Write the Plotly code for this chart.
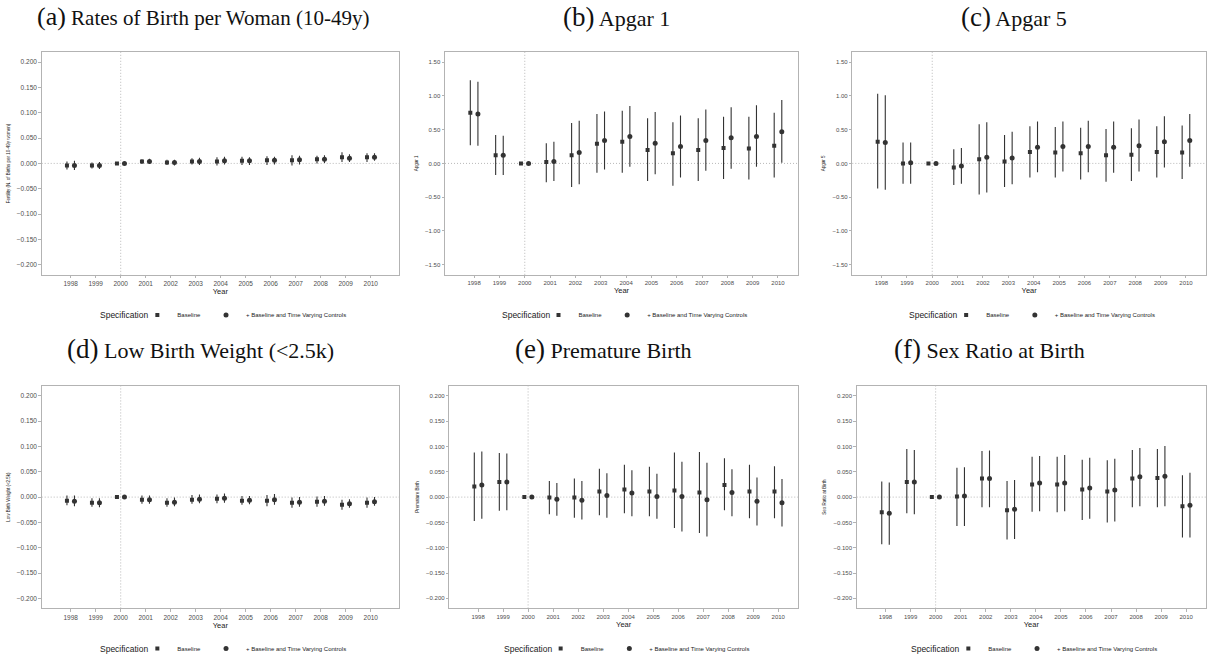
import numpy as np
import plotly.graph_objects as go

years = list(range(1998, 2011))
year_labels = [str(y) for y in years]

# ---- (a) Fertility ----
a_base = [-0.004, -0.004, 0.0, 0.004, 0.002, 0.004, 0.004, 0.005, 0.006, 0.006, 0.008, 0.012, 0.012]
a_base_lo = [-0.012, -0.010, 0.0, -0.001, -0.003, -0.002, -0.004, -0.003, -0.003, -0.004, 0.000, 0.003, 0.003]
a_base_hi = [0.004, 0.002, 0.0, 0.008, 0.007, 0.010, 0.012, 0.013, 0.014, 0.016, 0.015, 0.022, 0.020]
a_ctrl = [-0.004, -0.004, 0.0, 0.004, 0.002, 0.004, 0.005, 0.005, 0.006, 0.007, 0.008, 0.010, 0.012]
a_ctrl_lo = [-0.013, -0.011, 0.0, -0.001, -0.004, -0.003, -0.002, -0.003, -0.002, -0.002, 0.001, 0.003, 0.005]
a_ctrl_hi = [0.005, 0.003, 0.0, 0.009, 0.007, 0.011, 0.013, 0.012, 0.013, 0.015, 0.016, 0.018, 0.020]

# ---- (b) Apgar 1 ----
b_base = [0.75, 0.12, 0.0, 0.02, 0.12, 0.29, 0.32, 0.20, 0.15, 0.20, 0.23, 0.22, 0.26]
b_base_lo = [0.27, -0.17, 0.0, -0.28, -0.35, -0.14, -0.14, -0.26, -0.33, -0.26, -0.23, -0.24, -0.21]
b_base_hi = [1.23, 0.42, 0.0, 0.30, 0.60, 0.73, 0.78, 0.67, 0.61, 0.67, 0.69, 0.69, 0.75]
b_ctrl = [0.73, 0.12, 0.0, 0.03, 0.16, 0.34, 0.40, 0.30, 0.25, 0.34, 0.38, 0.40, 0.47]
b_ctrl_lo = [0.26, -0.17, 0.0, -0.26, -0.31, -0.09, -0.05, -0.16, -0.21, -0.11, -0.08, -0.05, 0.01]
b_ctrl_hi = [1.21, 0.41, 0.0, 0.32, 0.63, 0.77, 0.85, 0.76, 0.71, 0.80, 0.83, 0.86, 0.94]

# ---- (c) Apgar 5 ----
c_base = [0.32, 0.00, 0.0, -0.06, 0.06, 0.03, 0.17, 0.16, 0.15, 0.12, 0.13, 0.17, 0.16]
c_base_lo = [-0.37, -0.30, 0.0, -0.32, -0.46, -0.35, -0.21, -0.21, -0.24, -0.27, -0.26, -0.21, -0.23]
c_base_hi = [1.03, 0.31, 0.0, 0.21, 0.58, 0.42, 0.55, 0.54, 0.53, 0.51, 0.52, 0.55, 0.56]
c_ctrl = [0.31, 0.01, 0.0, -0.04, 0.09, 0.08, 0.24, 0.25, 0.25, 0.24, 0.26, 0.32, 0.34]
c_ctrl_lo = [-0.39, -0.30, 0.0, -0.30, -0.43, -0.31, -0.13, -0.12, -0.13, -0.14, -0.12, -0.06, -0.05]
c_ctrl_hi = [1.01, 0.31, 0.0, 0.23, 0.61, 0.47, 0.62, 0.62, 0.63, 0.62, 0.65, 0.70, 0.73]

# ---- (d) Low birth weight ----
d_base = [-0.007, -0.011, 0.0, -0.005, -0.011, -0.005, -0.003, -0.007, -0.007, -0.011, -0.009, -0.015, -0.011]
d_base_lo = [-0.016, -0.019, 0.0, -0.013, -0.019, -0.013, -0.012, -0.015, -0.018, -0.021, -0.019, -0.025, -0.021]
d_base_hi = [0.003, -0.002, 0.0, 0.003, -0.002, 0.004, 0.005, 0.002, 0.004, -0.001, 0.001, -0.005, -0.001]
d_ctrl = [-0.008, -0.011, 0.0, -0.005, -0.010, -0.004, -0.002, -0.006, -0.005, -0.010, -0.008, -0.013, -0.009]
d_ctrl_lo = [-0.018, -0.020, 0.0, -0.013, -0.018, -0.012, -0.011, -0.014, -0.015, -0.019, -0.017, -0.021, -0.017]
d_ctrl_hi = [0.003, -0.002, 0.0, 0.003, -0.001, 0.005, 0.007, 0.002, 0.006, 0.000, 0.002, -0.004, 0.000]

# ---- (e) Premature birth ----
e_base = [0.021, 0.030, 0.0, -0.001, -0.001, 0.011, 0.015, 0.011, 0.013, 0.009, 0.024, 0.011, 0.011]
e_base_lo = [-0.047, -0.027, 0.0, -0.034, -0.041, -0.036, -0.032, -0.038, -0.061, -0.071, -0.026, -0.042, -0.042]
e_base_hi = [0.088, 0.087, 0.0, 0.032, 0.037, 0.056, 0.064, 0.060, 0.088, 0.089, 0.077, 0.064, 0.061]
e_ctrl = [0.024, 0.030, 0.0, -0.004, -0.006, 0.003, 0.008, 0.001, 0.001, -0.005, 0.009, -0.008, -0.011]
e_ctrl_lo = [-0.043, -0.026, 0.0, -0.037, -0.044, -0.041, -0.038, -0.043, -0.068, -0.078, -0.038, -0.056, -0.058]
e_ctrl_hi = [0.090, 0.086, 0.0, 0.028, 0.032, 0.047, 0.053, 0.046, 0.070, 0.068, 0.055, 0.039, 0.036]

# ---- (f) Sex ratio ----
f_base = [-0.030, 0.030, 0.0, 0.001, 0.037, -0.026, 0.025, 0.025, 0.015, 0.011, 0.037, 0.038, -0.018]
f_base_lo = [-0.093, -0.032, 0.0, -0.057, -0.020, -0.084, -0.029, -0.030, -0.045, -0.050, -0.020, -0.020, -0.080]
f_base_hi = [0.031, 0.095, 0.0, 0.058, 0.091, 0.032, 0.080, 0.080, 0.074, 0.073, 0.093, 0.095, 0.043]
f_ctrl = [-0.032, 0.030, 0.0, 0.002, 0.037, -0.024, 0.028, 0.028, 0.018, 0.014, 0.040, 0.041, -0.016]
f_ctrl_lo = [-0.094, -0.034, 0.0, -0.057, -0.020, -0.083, -0.028, -0.028, -0.043, -0.048, -0.018, -0.018, -0.080]
f_ctrl_hi = [0.029, 0.093, 0.0, 0.059, 0.092, 0.034, 0.081, 0.083, 0.078, 0.076, 0.097, 0.101, 0.048]

panel_titles = ["(a)", "(b)", "(c)", "(d)", "(e)", "(f)"]
panel_names = ["Rates of Birth per Woman (10-49y)", "Apgar 1", "Apgar 5",
               "Low Birth Weight (<2.5k)", "Premature Birth", "Sex Ratio at Birth"]
y_titles = ["Fertility (N. of Births per 10-49y women)", "Apgar 1", "Apgar 5",
            "Low Birth Weight (<2.5k)", "Premature Birth", "Sex Ratio at Birth"]
series_names = ["Baseline", "+ Baseline and Time Varying Controls"]
legend_title = "Specification"

panels = [
    (a_base, a_base_lo, a_base_hi, a_ctrl, a_ctrl_lo, a_ctrl_hi),
    (b_base, b_base_lo, b_base_hi, b_ctrl, b_ctrl_lo, b_ctrl_hi),
    (c_base, c_base_lo, c_base_hi, c_ctrl, c_ctrl_lo, c_ctrl_hi),
    (d_base, d_base_lo, d_base_hi, d_ctrl, d_ctrl_lo, d_ctrl_hi),
    (e_base, e_base_lo, e_base_hi, e_ctrl, e_ctrl_lo, e_ctrl_hi),
    (f_base, f_base_lo, f_base_hi, f_ctrl, f_ctrl_lo, f_ctrl_hi),
]

# ---- layout geometry (pixels) ----
W, H = 1207, 663
frames_x = [(41.7, 399), (445, 798), (852.3, 1206), (41.7, 399), (449.3, 798), (856.7, 1206)]
frames_y = [(52.5, 277.3)] * 3 + [(389.3, 614)] * 3
title_cx = [203, 616, 1014, 200, 603, 989]
title_cy = [17, 17, 17, 352, 352, 352]
title_size = [21, 22, 22, 22, 22, 22]
legend_cy = [318, 318, 318, 654.5, 654.5, 654.5]
x_ranges = [(1996.84, 2011.13), (1996.85, 2010.79), (1996.85, 2010.79),
            (1996.84, 2011.13), (1996.85, 2010.79), (1996.85, 2010.79)]
small = [(-0.22, 0.22), np.arange(-0.2, 0.2001, 0.05), ".3f"]
big = [(-1.65, 1.65), np.arange(-1.5, 1.5001, 0.5), ".2f"]
y_specs = [small, big, big, small, small, small]
tick_size = [6.5, 6, 6, 6.5, 6, 6]

DARK = "#333333"
FRAME = "#b3b3b3"
TICKC = "#4d4d4d"
REF = "#b8b8b8"
FONT = "Liberation Sans"

fig = go.Figure()
dodge = 0.15
yr = np.array(years, dtype=float)

layout = dict(
    width=W, height=H, margin=dict(l=0, r=0, t=0, b=0),
    paper_bgcolor="white", plot_bgcolor="white",
    font=dict(family=FONT, color=DARK),
    annotations=[], shapes=[],
)

for i, (bs, bl, bh, cs, cl, ch) in enumerate(panels):
    k = "" if i == 0 else str(i + 1)
    xa, ya = "x" + k, "y" + k
    lg = "legend" + k
    bs, bl, bh = np.array(bs), np.array(bl), np.array(bh)
    cs, cl, ch = np.array(cs), np.array(cl), np.array(ch)
    for est, lo, hi, off, sym, sz, name in [
        (bs, bl, bh, -dodge, "square", 4, series_names[0]),
        (cs, cl, ch, dodge, "circle", 5, series_names[1]),
    ]:
        fig.add_trace(go.Scatter(
            x=yr + off, y=est, mode="markers", name=name,
            marker=dict(symbol=sym, size=sz, color=DARK, line=dict(width=0)),
            error_y=dict(type="data", symmetric=False, array=hi - est, arrayminus=est - lo,
                         thickness=1.1, width=0, color=DARK),
            xaxis=xa, yaxis=ya, legend=lg, showlegend=True,
        ))

    x0, x1 = frames_x[i]
    y0, y1 = frames_y[i]
    (r0, r1), tv, tf = y_specs[i]
    layout["xaxis" + k] = dict(
        domain=[x0 / W, x1 / W], anchor=ya, range=list(x_ranges[i]),
        tickmode="array", tickvals=years, ticktext=year_labels,
        tickfont=dict(size=tick_size[i], color=TICKC, family=FONT),
        ticks="outside", ticklen=2.5, tickcolor=FRAME, tickwidth=1,
        showline=True, mirror=True, linecolor=FRAME, linewidth=1,
        showgrid=False, zeroline=False,
        title=dict(text="Year", font=dict(size=7.5, color="#1a1a1a", family=FONT), standoff=1),
    )
    layout["yaxis" + k] = dict(
        domain=[1 - y1 / H, 1 - y0 / H], anchor=xa, range=[r0, r1],
        tickmode="array", tickvals=list(tv), tickformat=tf,
        tickfont=dict(size=tick_size[i], color=TICKC, family=FONT),
        ticks="outside", ticklen=2.5, tickcolor=FRAME, tickwidth=1,
        showline=True, mirror=True, linecolor=FRAME, linewidth=1,
        showgrid=False, zeroline=False,
        title=dict(text=y_titles[i], font=dict(size=4.5, color="#1a1a1a", family=FONT), standoff=6),
    )
    # reference lines (zero effect and reform year)
    layout["shapes"].append(dict(type="line", xref=xa + " domain", yref=ya, x0=0, x1=1, y0=0, y1=0,
                                 line=dict(color=REF, width=1, dash="1px,2px"), layer="below"))
    layout["shapes"].append(dict(type="line", xref=xa, yref=ya + " domain", x0=2000, x1=2000, y0=0, y1=1,
                                 line=dict(color=REF, width=1, dash="1px,2px"), layer="below"))
    # panel title
    ts = title_size[i]
    layout["annotations"].append(dict(
        xref="paper", yref="paper", x=title_cx[i] / W, y=1 - title_cy[i] / H,
        xanchor="center", yanchor="middle", showarrow=False,
        text='<span style="font-size:%dpx">' % (ts + 5) + panel_titles[i] + "</span> " + panel_names[i],
        font=dict(family="Liberation Serif", size=ts, color="#111111"),
    ))
    # legend: title as text, items as plotly legend
    cx = (x0 + x1) / 2
    layout["annotations"].append(dict(
        xref="paper", yref="paper", x=(cx - 70) / W, y=1 - legend_cy[i] / H,
        xanchor="right", yanchor="middle", showarrow=False,
        text=legend_title, font=dict(size=8.5, color="#1a1a1a", family=FONT),
    ))
    layout[lg] = dict(
        orientation="h", xanchor="left", yanchor="middle",
        x=(cx - 83) / W, y=1 - legend_cy[i] / H,
        font=dict(size=6, color="#1a1a1a", family=FONT),
        itemwidth=30, bgcolor="rgba(0,0,0,0)", tracegroupgap=0,
    )

fig.update_layout(**layout)
fig.write_html("out.html")
